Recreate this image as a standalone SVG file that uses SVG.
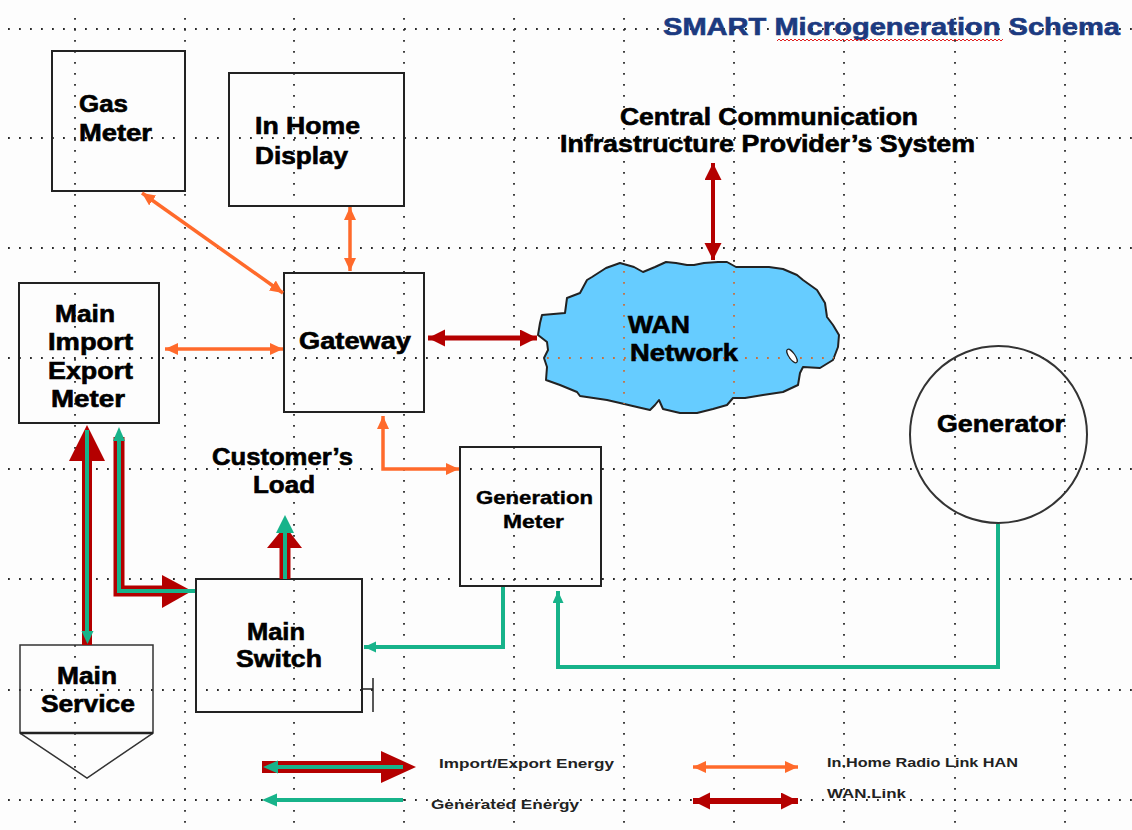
<svg xmlns="http://www.w3.org/2000/svg" xmlns:xlink="http://www.w3.org/1999/xlink" width="1132" height="830" viewBox="0 0 1132 830">
<style>
.t{font-family:"Liberation Sans",Arial,sans-serif;font-weight:bold;font-size:23px;fill:#000;stroke:#000;stroke-width:0.6}
.s{font-size:19px;stroke-width:0.4}
.lg{font-family:"Liberation Sans",Arial,sans-serif;font-weight:bold;font-size:12.5px;fill:#222}
.box{fill:none;stroke:#222;stroke-width:2}
.gh{stroke-dasharray:1.8 9.2;stroke-width:1.8;fill:none}
.or{stroke:#ff6a2b;stroke-width:3.5;fill:none}
.wr{stroke:#b40000;stroke-width:5;fill:none}
.red{stroke:#b40000;fill:none}
.grn{stroke:#17b38a;stroke-width:4;fill:none}
</style>
<defs>
<marker id="ao" markerUnits="userSpaceOnUse" markerWidth="14" markerHeight="12" refX="13" refY="6" orient="auto-start-reverse"><path d="M0,0 L13,6 L0,12 Z" fill="#ff6a2b"/></marker>
<marker id="ar" markerUnits="userSpaceOnUse" markerWidth="18" markerHeight="18" refX="17" refY="8.5" orient="auto-start-reverse"><path d="M0,0 L17,8.5 L0,17 Z" fill="#b40000"/></marker>
<marker id="ag" markerUnits="userSpaceOnUse" markerWidth="13" markerHeight="12" refX="12" refY="5.5" orient="auto-start-reverse"><path d="M0,0 L12,5.5 L0,11 Z" fill="#17b38a"/></marker>
<pattern id="wavy" patternUnits="userSpaceOnUse" x="777" y="38" width="4" height="4"><polyline points="0,3 2,1 4,3" fill="none" stroke="#e02020" stroke-width="1"/></pattern>
<clipPath id="cloudclip"><path d="M542,315 L540,323 L538,335 L547,342 L548,350 L544,358 L547,367 L546,380 L560,385 L577,392 L580,396 L607,400 L620,403 L637,407 L650,410 L655,405 L659,400 L663,409 L680,413 L697,413 L713,409 L727,405 L733,398 L745,398 L763,395 L783,392 L798,385 L800,373 L803,367 L820,368 L833,360 L838,347 L839,335 L833,325 L827,317 L825,303 L817,290 L803,280 L797,275 L783,269 L769,267 L736,267 L727,262 L718,262 L704,263 L694,265 L687,265 L676,263 L666,262 L655,267 L643,272 L634,267 L620,263 L606,268 L592,277 L587,280 L580,293 L567,298 L565,313 Z"/></clipPath>
</defs>
<rect width="1132" height="830" fill="#fdfdfd"/>
<g stroke="#2a2a2a">
<g id="grid" class="gh">
<path d="M8,29 H1132 M8,138 H1132 M8,248 H1132 M8,358 H1132 M8,469 H1132 M8,579 H1132 M8,690 H1132 M8,800 H1132"/>
<path d="M75,18 V830 M185,18 V830 M294,18 V830 M404,18 V830 M514,18 V830 M624,18 V830 M734,18 V830 M844,18 V830 M955,18 V830 M1065,18 V830"/>
</g>
</g>
<g id="title">
<text x="663" y="35" class="t" style="fill:#1c3a80;stroke:#1c3a80;font-size:24px" textLength="457" lengthAdjust="spacingAndGlyphs">SMART Microgeneration Schema</text>
<rect x="777" y="38" width="226" height="4" fill="url(#wavy)"/>
</g>
<g id="wan-network">
<path d="M542,315 L540,323 L538,335 L547,342 L548,350 L544,358 L547,367 L546,380 L560,385 L577,392 L580,396 L607,400 L620,403 L637,407 L650,410 L655,405 L659,400 L663,409 L680,413 L697,413 L713,409 L727,405 L733,398 L745,398 L763,395 L783,392 L798,385 L800,373 L803,367 L820,368 L833,360 L838,347 L839,335 L833,325 L827,317 L825,303 L817,290 L803,280 L797,275 L783,269 L769,267 L736,267 L727,262 L718,262 L704,263 L694,265 L687,265 L676,263 L666,262 L655,267 L643,272 L634,267 L620,263 L606,268 L592,277 L587,280 L580,293 L567,298 L565,313 Z" fill="#66ccff" stroke="#222" stroke-width="2" stroke-linejoin="round"/>
<g stroke="#c8703c" clip-path="url(#cloudclip)"><use xlink:href="#grid"/></g>
<ellipse cx="792" cy="356" rx="3" ry="8" transform="rotate(-35 792 356)" fill="#fff" stroke="#222" stroke-width="1.2"/>
<text x="628" y="333" class="t" textLength="62" lengthAdjust="spacingAndGlyphs">WAN</text>
<text x="630" y="361" class="t" textLength="108" lengthAdjust="spacingAndGlyphs">Network</text>
</g>
<g id="gas-meter">
<rect x="52" y="51" width="133" height="140" class="box"/>
<text x="79" y="112" class="t" textLength="49" lengthAdjust="spacingAndGlyphs">Gas</text>
<text x="79" y="141" class="t" textLength="73" lengthAdjust="spacingAndGlyphs">Meter</text>
</g>
<g id="in-home-display">
<rect x="229" y="73" width="175" height="133" class="box"/>
<text x="255" y="134" class="t" textLength="105" lengthAdjust="spacingAndGlyphs">In Home</text>
<text x="255" y="164" class="t" textLength="93" lengthAdjust="spacingAndGlyphs">Display</text>
</g>
<g id="central-system">
<text x="620" y="125" class="t" textLength="298" lengthAdjust="spacingAndGlyphs">Central Communication</text>
<text x="560" y="152" class="t" textLength="415" lengthAdjust="spacingAndGlyphs">Infrastructure Provider’s System</text>
</g>
<g id="main-import-export-meter">
<rect x="19" y="283" width="140" height="140" class="box"/>
<text x="55" y="322" class="t" textLength="60" lengthAdjust="spacingAndGlyphs">Main</text>
<text x="48" y="350" class="t" textLength="85" lengthAdjust="spacingAndGlyphs">Import</text>
<text x="48" y="379" class="t" textLength="85" lengthAdjust="spacingAndGlyphs">Export</text>
<text x="51" y="407" class="t" textLength="74" lengthAdjust="spacingAndGlyphs">Meter</text>
</g>
<g id="gateway">
<rect x="284" y="273" width="140" height="139" class="box"/>
<text x="299" y="349" class="t" textLength="112" lengthAdjust="spacingAndGlyphs">Gateway</text>
</g>
<g id="customers-load">
<text x="212" y="465" class="t" textLength="141" lengthAdjust="spacingAndGlyphs">Customer’s</text>
<text x="253" y="493" class="t" textLength="62" lengthAdjust="spacingAndGlyphs">Load</text>
</g>
<g id="generation-meter">
<rect x="460" y="447" width="141" height="139" class="box"/>
<text x="476" y="504" class="t s" textLength="117" lengthAdjust="spacingAndGlyphs">Generation</text>
<text x="503" y="528" class="t s" textLength="61" lengthAdjust="spacingAndGlyphs">Meter</text>
</g>
<g id="generator">
<circle cx="998.5" cy="434.5" r="88.5" fill="none" stroke="#333" stroke-width="2"/>
<text x="937" y="432" class="t" textLength="128" lengthAdjust="spacingAndGlyphs">Generator</text>
</g>
<g id="main-switch">
<rect x="196" y="579" width="166" height="133" class="box"/>
<path d="M362,689 H373 M373,678 V712" stroke="#222" stroke-width="1.5" fill="none"/>
<text x="247" y="640" class="t" textLength="58" lengthAdjust="spacingAndGlyphs">Main</text>
<text x="236" y="667" class="t" textLength="86" lengthAdjust="spacingAndGlyphs">Switch</text>
</g>
<g id="main-service">
<path d="M20,733 V645 H153 V733 L87,778 Z" fill="none" stroke="#333" stroke-width="1.5" stroke-linejoin="miter"/>
<path d="M20,733 H153" stroke="#222" stroke-width="2.5"/>
<text x="57" y="684" class="t" textLength="60" lengthAdjust="spacingAndGlyphs">Main</text>
<text x="41" y="712" class="t" textLength="94" lengthAdjust="spacingAndGlyphs">Service</text>
</g>
<g id="connectors">
<line x1="142" y1="193" x2="283" y2="293" class="or" marker-start="url(#ao)" marker-end="url(#ao)"/>
<line x1="350" y1="207" x2="350" y2="271" class="or" marker-start="url(#ao)" marker-end="url(#ao)"/>
<line x1="165" y1="349" x2="283" y2="349" class="or" marker-start="url(#ao)" marker-end="url(#ao)"/>
<path d="M383,416 V469 H459" class="or" stroke-linejoin="miter" marker-start="url(#ao)" marker-end="url(#ao)"/>
<line x1="428" y1="338" x2="537" y2="338" class="wr" marker-start="url(#ar)" marker-end="url(#ar)"/>
<line x1="713" y1="163" x2="713" y2="260" class="wr" style="stroke-width:4" marker-start="url(#ar)" marker-end="url(#ar)"/>
<path d="M503,587 V647 H364" class="grn" stroke-linejoin="miter" marker-end="url(#ag)"/>
<path d="M998,524 V667 H558 V591" class="grn" stroke-linejoin="miter" marker-end="url(#ag)"/>
<path d="M87,645 V458" class="red" stroke-width="10"/>
<polygon points="87,425 69,461 105,461" fill="#b40000"/>
<path d="M87,430 V632" class="grn"/>
<polygon points="81.5,631 93.5,631 87.5,644" fill="#17b38a"/>
<path d="M119,437 V591 H165" class="red" stroke-width="11" stroke-linejoin="miter"/>
<polygon points="162,575 192,591 162,608" fill="#b40000"/>
<path d="M119,440 V591 H195" class="grn" stroke-linejoin="miter"/>
<polygon points="119,427 113,441 125,441" fill="#17b38a"/>
<path d="M285,579 V546" class="red" stroke-width="11"/>
<polygon points="267,548 302,548 285,526" fill="#b40000"/>
<path d="M285,579 V530" class="grn"/>
<polygon points="276,533 294,533 285,515" fill="#17b38a"/>
</g>
<g id="legend">
<path d="M262,767 H383" class="red" stroke-width="12"/>
<polygon points="381,751 416,767 381,783" fill="#b40000"/>
<path d="M403,767 H273" class="grn"/>
<polygon points="263,767 278,760.5 278,773.5" fill="#17b38a"/>
<path d="M403,800 H273" class="grn"/>
<polygon points="262,800 277,793.5 277,806.5" fill="#17b38a"/>
<line x1="693" y1="767" x2="798" y2="767" class="or" marker-start="url(#ao)" marker-end="url(#ao)"/>
<line x1="693" y1="801" x2="798" y2="801" class="wr" style="stroke-width:6" marker-start="url(#ar)" marker-end="url(#ar)"/>
<text x="439" y="768" class="lg" textLength="175" lengthAdjust="spacingAndGlyphs">Import/Export Energy</text>
<text x="431" y="809" class="lg" textLength="148" lengthAdjust="spacingAndGlyphs">Generated Energy</text>
<text x="827" y="767" class="lg" textLength="191" lengthAdjust="spacingAndGlyphs">In.Home Radio Link HAN</text>
<text x="827" y="798" class="lg" textLength="79" lengthAdjust="spacingAndGlyphs">WAN.Link</text>
</g>
</svg>
